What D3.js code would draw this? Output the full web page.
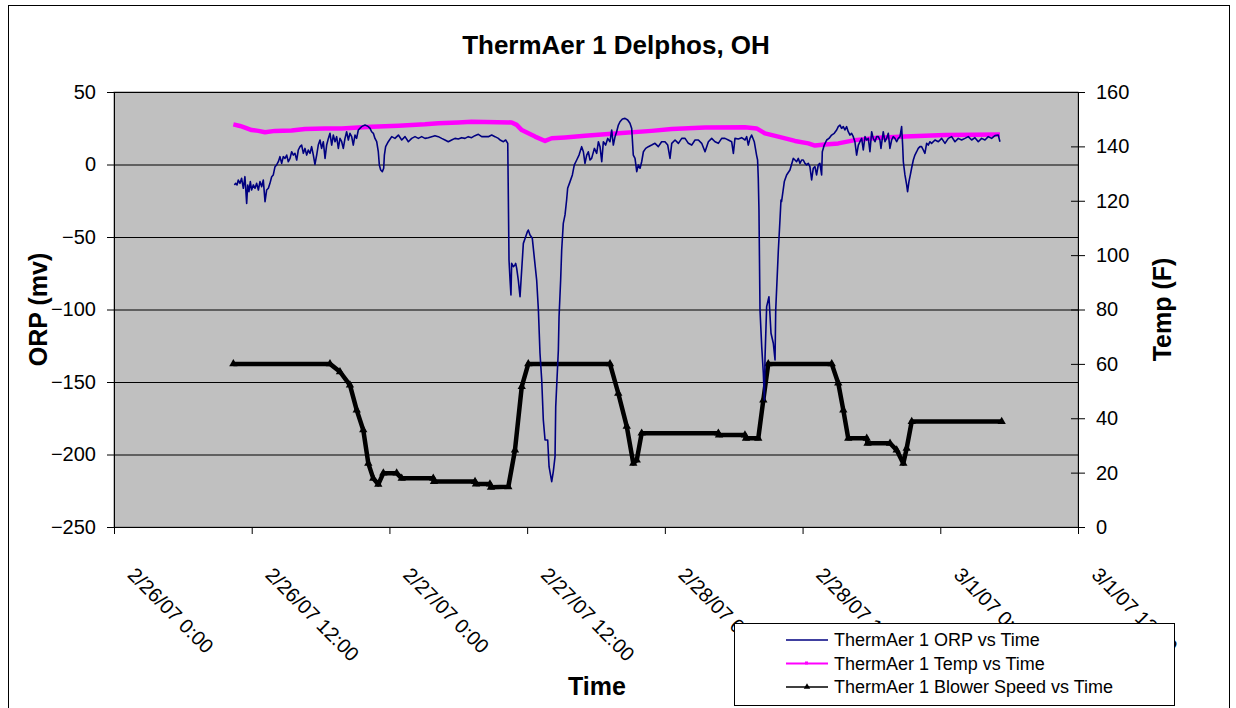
<!DOCTYPE html>
<html>
<head>
<meta charset="utf-8">
<script src="https://cdn.jsdelivr.net/npm/d3@7"></script>
<style>
  body { margin: 0; background: #fff; }
  svg { display: block; font-family: "Liberation Sans", Arial, sans-serif; }
</style>
</head>
<body>
<svg id="chart" width="1236" height="708"></svg>
<script>
// all times are hours after 2/26/07 0:00
var orpHours = [10.49,10.60,10.72,10.83,10.98,11.12,11.27,11.41,11.56,11.65,11.76,11.88,11.99,12.14,12.29,12.43,12.58,12.72,12.87,13.01,
  13.16,13.30,13.45,13.59,13.74,13.88,14.03,14.17,14.32,14.46,14.61,14.75,14.90,15.05,15.19,15.34,15.48,15.63,15.77,15.92,
  16.06,16.21,16.35,16.50,16.64,16.79,16.93,17.08,17.22,17.37,17.51,17.66,17.80,17.95,18.09,18.24,18.39,18.53,18.68,18.82,
  18.97,19.11,19.26,19.40,19.55,19.69,19.84,19.98,20.13,20.27,20.42,20.56,20.71,20.85,21.00,21.14,21.29,21.43,21.58,21.73,
  21.87,22.02,22.16,22.31,22.45,22.60,22.74,22.89,23.03,23.12,23.24,23.38,23.50,23.56,23.67,23.90,24.20,24.48,24.78,25.07,
  25.36,25.65,25.94,26.23,26.52,26.81,27.10,27.39,27.68,27.97,28.26,28.55,28.84,29.13,29.42,29.71,30.00,30.29,30.58,30.87,
  31.16,31.45,31.75,32.04,32.33,32.62,32.91,33.20,33.49,33.64,33.93,34.13,34.31,34.42,34.51,34.59,34.65,34.80,34.94,35.00,
  35.09,35.23,35.38,35.47,35.67,35.87,36.02,36.10,36.25,36.45,36.63,36.83,36.98,37.12,37.27,37.41,37.56,37.79,37.91,38.14,
  38.28,38.43,38.49,38.72,38.78,38.92,39.01,39.15,39.30,39.44,39.53,39.74,39.94,40.11,40.32,40.52,40.75,40.90,41.04,41.19,
  41.33,41.48,41.62,41.86,42.06,42.21,42.35,42.50,42.64,42.84,43.02,43.22,43.37,43.51,43.66,43.80,43.95,44.09,44.30,44.53,
  44.76,44.96,45.11,45.25,45.40,45.55,45.69,45.84,45.98,46.13,46.33,46.56,46.85,47.14,47.43,47.72,48.01,48.25,48.45,48.60,
  48.89,49.18,49.47,49.76,50.05,50.34,50.63,50.92,51.21,51.50,51.79,52.08,52.37,52.66,52.95,53.24,53.53,53.82,53.97,54.11,
  54.40,54.69,54.99,55.13,55.27,55.42,55.56,55.79,55.99,56.08,56.14,56.20,56.29,56.44,56.58,56.67,56.73,56.87,57.07,57.25,
  57.45,57.60,57.66,57.89,58.03,58.12,58.17,58.41,58.61,58.90,59.19,59.34,59.48,59.63,59.77,59.92,60.06,60.21,60.35,60.50,
  60.64,60.79,60.93,61.08,61.22,61.37,61.51,61.66,61.72,61.89,62.10,62.30,62.53,62.76,62.97,63.11,63.26,63.40,63.55,63.69,
  63.84,63.98,64.13,64.27,64.42,64.56,64.71,64.86,65.00,65.15,65.29,65.44,65.58,65.73,65.87,66.02,66.16,66.31,66.45,66.60,
  66.74,66.83,66.95,67.03,67.18,67.32,67.47,67.61,67.76,67.90,68.05,68.20,68.34,68.49,68.63,68.72,68.78,68.92,69.07,69.15,
  69.27,69.39,69.50,69.65,69.79,69.94,70.08,70.23,70.37,70.52,70.66,70.81,70.95,71.10,71.24,71.54,71.83,72.12,72.41,72.70,
  72.99,73.28,73.57,73.86,74.15,74.44,74.73,75.02,75.31,75.60,75.89,76.18,76.47,76.76,77.05,77.20];
var orpValues = [-14.1,-13.0,-14.1,-10.7,-13.0,-9.5,-16.4,-8.4,-26.8,-14.1,-18.7,-11.8,-17.6,-14.1,-16.4,-13.0,-17.6,-11.8,-15.3,-10.7,
  -25.6,-17.6,-16.4,-13.0,-8.4,-7.2,-1.5,-0.3,1.9,5.4,0.8,5.4,4.2,6.5,1.9,4.2,8.8,6.5,7.7,3.1,
  10.0,12.3,13.4,7.7,11.1,6.5,10.0,7.7,12.3,6.5,0.1,6.5,13.4,16.9,11.1,15.7,4.2,13.4,18.0,21.5,
  13.4,20.3,15.7,19.2,11.1,18.0,15.7,11.1,18.0,22.6,16.9,21.5,19.2,13.4,20.3,18.0,23.8,24.9,26.1,26.8,
  27.2,26.8,26.1,24.9,22.6,21.5,18.0,15.7,8.8,-0.3,-3.8,-4.9,-2.6,6.5,12.3,15.7,19.2,18.0,20.3,16.9,
  19.2,15.7,18.0,19.2,18.0,19.2,18.0,18.5,19.2,19.9,19.2,18.0,16.9,15.7,16.9,18.0,17.6,18.5,18.0,19.2,
  18.5,19.9,20.8,19.2,19.2,19.2,20.3,19.2,18.0,16.9,15.7,16.9,14.6,-65.9,-79.7,-90.0,-68.2,-70.5,-69.3,-68.2,
  -71.6,-79.7,-91.2,-79.7,-54.4,-49.8,-46.3,-45.2,-48.6,-50.9,-64.7,-79.7,-100.3,-130.2,-148.6,-176.2,-190.0,-190.0,-208.4,-218.7,
  -211.8,-201.5,-167.0,-127.9,-105.0,-79.7,-59.0,-40.6,-34.8,-24.5,-16.4,-11.8,-7.2,-0.3,3.1,6.5,12.3,8.8,0.8,6.5,
  8.8,3.1,4.2,11.1,7.7,15.7,12.3,1.9,15.7,13.4,18.0,15.7,23.8,13.4,19.2,22.6,27.2,29.5,31.4,31.8,
  30.7,28.4,24.9,6.5,4.2,-4.9,-0.3,-2.6,1.9,8.8,11.1,12.3,13.4,14.6,12.3,15.7,15.7,13.4,4.2,14.6,
  16.9,14.6,18.0,18.0,14.6,13.4,16.9,16.9,14.6,8.8,15.7,18.0,15.7,14.6,18.0,18.0,16.9,15.7,7.7,18.0,
  17.6,18.5,16.9,19.2,13.4,18.0,20.3,15.7,6.5,3.1,-9.5,-31.4,-100.3,-125.6,-144.0,-162.4,-132.5,-98.0,-91.2,-116.4,
  -123.3,-134.8,-100.3,-59.0,-38.3,-24.5,-25.6,-11.8,-7.2,-3.8,4.2,3.1,1.9,4.2,0.8,3.1,3.1,0.8,-0.3,0.8,
  -1.5,-10.7,-2.6,-1.5,-7.2,-0.3,0.8,-7.2,8.8,13.4,16.9,18.0,20.3,21.5,23.8,26.1,27.2,24.9,26.1,23.8,
  26.1,22.6,20.3,21.5,19.2,15.7,6.5,13.4,15.7,18.0,10.0,19.2,16.9,18.0,8.8,22.6,18.0,15.7,19.2,19.2,
  16.9,11.1,18.0,22.6,15.7,18.0,21.5,11.1,16.9,19.2,18.0,15.7,18.0,19.2,26.1,13.4,1.9,-7.2,-14.1,-18.7,
  -11.8,-7.2,-2.6,3.1,6.5,8.8,11.1,12.3,12.3,10.0,7.7,14.6,13.4,15.7,14.6,16.9,15.7,18.0,14.6,18.0,
  19.2,15.7,18.0,16.9,18.0,19.2,16.9,18.5,15.7,18.0,16.9,19.2,18.0,19.9,20.3,15.7];

var tempHours = [10.40,10.98,11.41,11.99,12.58,13.16,14.03,15.48,16.64,18.39,19.84,21.29,22.45,24.78,27.10,28.26,30.00,31.16,32.33,34.65,
  35.09,35.53,36.11,36.69,37.56,38.14,39.30,41.04,43.95,46.85,48.60,51.50,54.98,55.99,56.72,57.88,59.34,60.50,61.08,61.95,
  63.11,64.56,66.60,68.92,72.41,77.20];
var tempValues = [148.1,147.5,146.9,146.0,145.7,145.2,145.7,145.8,146.4,146.6,146.6,146.9,147.2,147.6,148.1,148.5,148.8,149.1,149.0,148.8,
  147.9,146.0,144.8,143.6,142.0,143.0,143.3,143.9,144.8,145.7,146.4,146.9,147.0,146.6,144.8,143.6,142.0,141.1,140.3,140.7,
  141.1,142.3,143.2,143.6,144.2,144.4];

var blowerHours = [10.40,18.82,19.69,20.56,21.15,21.72,22.16,22.59,23.03,23.47,24.63,25.07,27.82,27.88,31.46,31.54,32.76,32.85,34.36,34.94,
  35.53,36.10,43.22,43.94,44.68,45.25,45.55,45.98,52.66,52.72,54.98,55.07,56.14,56.58,57.01,62.54,63.11,63.55,63.98,65.59,
  65.66,67.62,68.20,68.78,69.07,69.51,77.35];
var blowerValues = [60,60,57.1,52.2,43.0,35.7,23.4,17.9,15.7,19.8,19.8,17.9,17.9,16.7,16.7,15.8,15.8,14.6,14.8,28.3,
  51.6,60,60,49.2,37.0,23.4,24.6,34.5,34.5,33.8,33.8,32.6,32.6,46.7,60,60,52.9,43.0,32.6,32.6,
  30.8,30.8,28.3,23.4,28.9,38.8,38.8];

var xTickHours = [0, 12, 24, 36, 48, 60, 72, 84];
var orpTicks = [-250, -200, -150, -100, -50, 0, 50];
var tempTicks = [0, 20, 40, 60, 80, 100, 120, 140, 160];
var seriesNames = ["ThermAer 1 ORP vs Time", "ThermAer 1 Temp vs Time", "ThermAer 1 Blower Speed vs Time"];

var margin = {top: 92, right: 158, bottom: 181, left: 114},
  width = 1236 - margin.left - margin.right,
  height = 708 - margin.top - margin.bottom;

var t0 = new Date(2007, 1, 26, 0, 0);
function toDate(h) { return new Date(t0.getTime() + h * 3600000); }
function pairs(hours, vals) { return hours.map(function(h, i) { return [toDate(h), vals[i]]; }); }

var svg = d3.select("#chart");

// outer chart border
svg.append("rect").attr("x", 8.5).attr("y", 5.5).attr("width", 1221).attr("height", 720)
  .attr("fill", "#fff").attr("stroke", "#000");

svg.append("text").attr("x", 616).attr("y", 54).attr("text-anchor", "middle")
  .style("font-size", "26px").style("font-weight", "bold").text("ThermAer 1 Delphos, OH");

var g = svg.append("g").attr("transform", "translate(" + margin.left + "," + margin.top + ")");

var x = d3.scaleTime().domain([toDate(0), toDate(84)]).range([0, width]);
var yL = d3.scaleLinear().domain([-250, 50]).range([height, 0]);
var yR = d3.scaleLinear().domain([0, 160]).range([height, 0]);

g.append("rect").attr("width", width).attr("height", height)
  .attr("fill", "#c0c0c0").attr("stroke", "#808080");

// gridlines
g.append("g").call(d3.axisLeft(yL).tickValues(orpTicks).tickSize(-width).tickFormat(""))
  .call(function(s) { s.select(".domain").remove(); })
  .selectAll("line").attr("stroke", "#000");

var fmt = d3.timeFormat("%-m/%-d/%y %-H:%M");

var xAxis = g.append("g").attr("transform", "translate(0," + height + ")")
  .call(d3.axisBottom(x).tickValues(xTickHours.map(toDate)).tickFormat(fmt).tickSize(7).tickSizeOuter(0));
xAxis.selectAll("text").attr("text-anchor", "start").attr("y", 0).attr("dy", 0)
  .attr("transform", "translate(12,49) rotate(45)");

var leftAxis = g.append("g")
  .call(d3.axisLeft(yL).tickValues(orpTicks).tickSize(7).tickPadding(11).tickSizeOuter(0));

var rightAxis = g.append("g").attr("transform", "translate(" + width + ",0)")
  .call(d3.axisRight(yR).tickValues(tempTicks).tickSize(7).tickPadding(11).tickSizeOuter(0));
rightAxis.selectAll(".tick line").attr("x1", -7);

[xAxis, leftAxis, rightAxis].forEach(function(a) {
  a.selectAll("text").style("font-size", "20px").attr("fill", "#000");
  a.selectAll("line, .domain").attr("stroke", "#000");
  a.attr("font-family", null);
});

var lineL = d3.line().x(function(d) { return x(d[0]); }).y(function(d) { return yL(d[1]); });
var lineR = d3.line().x(function(d) { return x(d[0]); }).y(function(d) { return yR(d[1]); });

var blowerData = pairs(blowerHours, blowerValues);
g.append("path").datum(blowerData).attr("d", lineR)
  .attr("fill", "none").attr("stroke", "#000").attr("stroke-width", 4.5).attr("stroke-linejoin", "round");
g.selectAll(".bm").data(blowerData).enter().append("path").attr("class", "bm")
  .attr("d", d3.symbol(d3.symbolTriangle).size(30))
  .attr("transform", function(d) { return "translate(" + x(d[0]) + "," + yR(d[1]) + ")"; })
  .attr("fill", "#000");

g.append("path").datum(pairs(tempHours, tempValues)).attr("d", lineR)
  .attr("fill", "none").attr("stroke", "#ff00ff").attr("stroke-width", 4.5).attr("stroke-linejoin", "round");

g.append("path").datum(pairs(orpHours, orpValues)).attr("d", lineL)
  .attr("fill", "none").attr("stroke", "#000080").attr("stroke-width", 1.6).attr("stroke-linejoin", "round");

// axis titles
svg.append("text").attr("transform", "translate(47," + (margin.top + height / 2) + ") rotate(-90)")
  .attr("text-anchor", "middle").style("font-size", "25px").style("font-weight", "bold").text("ORP (mv)");
svg.append("text").attr("transform", "translate(1171," + (margin.top + height / 2) + ") rotate(-90)")
  .attr("text-anchor", "middle").style("font-size", "25px").style("font-weight", "bold").text("Temp (F)");
svg.append("text").attr("x", 597).attr("y", 695).attr("text-anchor", "middle")
  .style("font-size", "25px").style("font-weight", "bold").text("Time");

// legend
var lg = svg.append("g").attr("transform", "translate(734,623)");
lg.append("rect").attr("x", 0.5).attr("y", 0.5).attr("width", 440).attr("height", 82)
  .attr("fill", "#fff").attr("stroke", "#000");
var colors = ["#000080", "#ff00ff", "#000"];
seriesNames.forEach(function(name, i) {
  var cy = 17 + i * 23.5;
  lg.append("line").attr("x1", 52).attr("x2", 94).attr("y1", cy).attr("y2", cy)
    .attr("stroke", colors[i]).attr("stroke-width", i === 1 ? 2 : 1.5);
  if (i === 1) {
    lg.append("rect").attr("x", 71).attr("y", cy - 2).attr("width", 3).attr("height", 3).attr("fill", colors[i]);
  }
  if (i === 2) {
    lg.append("path").attr("d", d3.symbol(d3.symbolTriangle).size(18))
      .attr("transform", "translate(73," + cy + ")").attr("fill", "#000");
  }
  lg.append("text").attr("x", 100).attr("y", cy).attr("dy", "0.35em")
    .style("font-size", "18px").text(name);
});
</script>
</body>
</html>
